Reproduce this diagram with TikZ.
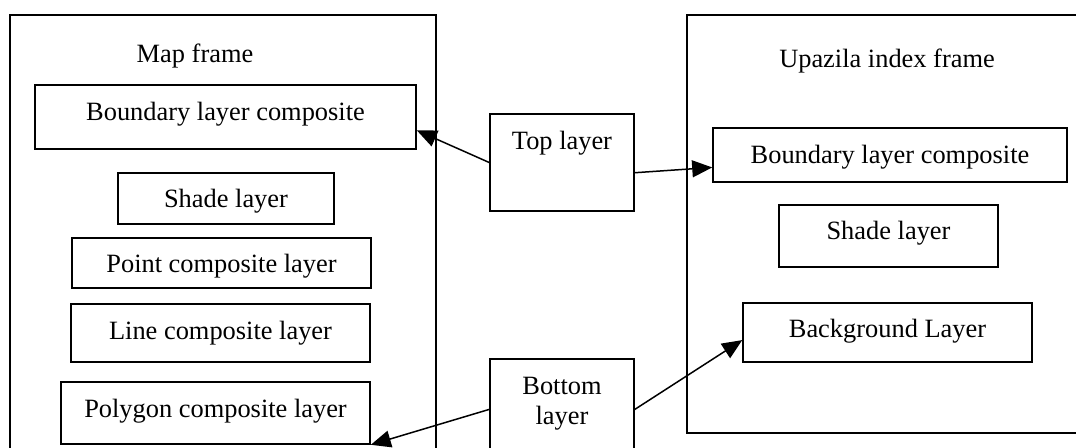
\documentclass[tikz,border=0pt]{standalone}
\usepackage{fontspec}
\setmainfont{Liberation Serif}
\usetikzlibrary{arrows.meta}

\tikzset{
  panel/.style={draw, line width=1.6bp, inner sep=0pt, anchor=north west},
  layerbox/.style n args={3}{draw, line width=1.6bp, inner sep=0pt, anchor=base,
    minimum width=#1bp, text height=#2bp, text depth=#3bp},
  link/.style={line width=1.5bp, -{Triangle[length=20bp,width=17bp]}},
}

\begin{document}
\begin{tikzpicture}[x=1bp, y=-1bp, font=\fontsize{26.4bp}{30bp}\selectfont]
  \clip (0,0) rectangle (1076,448);

  % The two frames and their titles
  \node[panel, minimum width=426bp, minimum height=456bp] (mapframe) at (9,14) {};
  \node[panel, minimum width=414bp, minimum height=418bp] (indexframe) at (686,14) {};
  \node[anchor=base] (maptitle) at (195,62.7) {Map frame};
  \node[anchor=base] (indextitle) at (887,68) {Upazila index frame};

  % Layers in the map frame
  \node[layerbox={381}{35.7}{28.3}] (lbound) at (225.5,120.7) {Boundary layer composite};
  \node[layerbox={216}{35}{16}] (lshade) at (226,208) {Shade layer};
  \node[layerbox={299}{35}{15}] (lpoint) at (221.5,273) {Point composite layer};
  \node[layerbox={299}{36}{22}] (lline) at (220.5,340) {Line composite layer};
  \node[layerbox={309}{36}{26}] (lpoly) at (215.5,418) {Polygon composite layer};

  % Layers in the index frame
  \node[layerbox={354}{36}{18}] (rbound) at (890,164) {Boundary layer composite};
  \node[layerbox={219}{35}{27}] (rshade) at (888.5,240) {Shade layer};
  \node[layerbox={289}{35}{24}] (rback) at (887.5,338) {Background Layer};

  % Top and bottom
  \node[layerbox={144}{36}{61}] (top) at (562,150) {Top layer};
  \node[layerbox={144}{66}{45}, align=center] (bottom) at (562,425) {Bottom\\layer};

  % Arrows
  \draw[link] (top.west) -- (lbound.-4);
  \draw[link] (top.-8) -- (rbound.184);
  \draw[link] (bottom.176) -- (lpoly.south east);
  \draw[link] (bottom.4) -- (rback.183);
\end{tikzpicture}
\end{document}
